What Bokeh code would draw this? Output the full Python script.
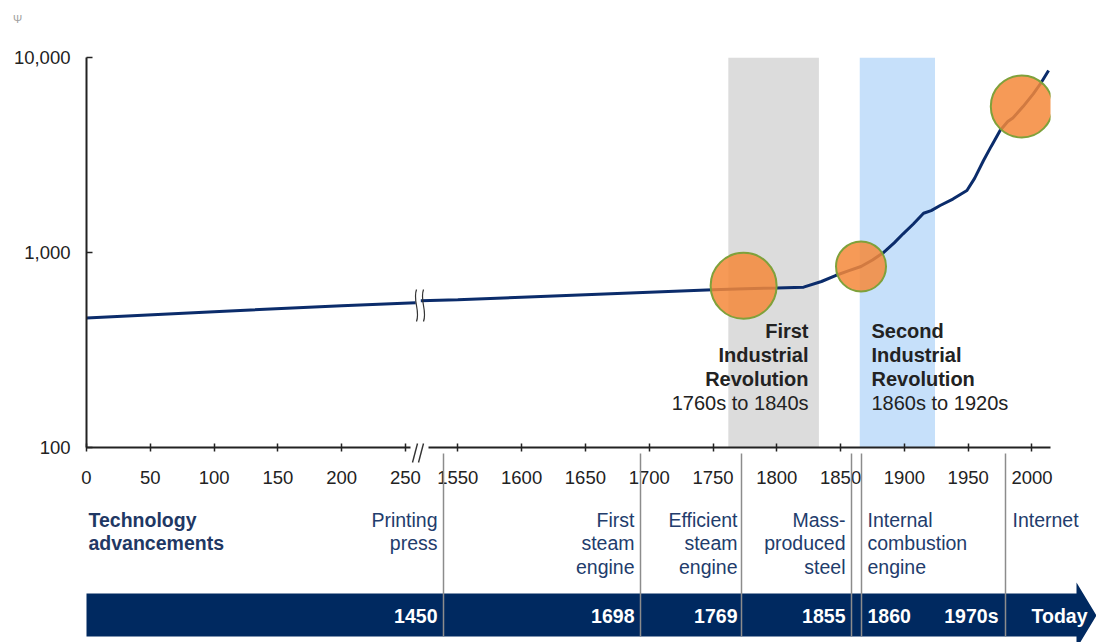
from bokeh.plotting import figure
from bokeh.models import Range1d, LinearScale, FixedTicker, NumeralTickFormatter, ColumnDataSource
from bokeh.core.properties import value
from bokeh.embed import file_html
from bokeh.resources import INLINE

# ---------------- data ----------------
early_years = [0, 100, 200, 258]
early_gdp = [462, 497, 533, 553]

late_years = [1521, 1550, 1600, 1650, 1700, 1750, 1775, 1800, 1821, 1835, 1846, 1856,
              1866, 1875, 1884, 1892, 1899, 1907, 1915, 1921, 1928, 1938, 1949, 1955,
              1962, 1968, 1975, 1981, 1985, 1988, 1993, 2001, 2007, 2013]
late_gdp = [565, 572, 590, 608, 626, 645, 652, 658, 664, 710, 762, 805,
            848, 915, 1004, 1120, 1247, 1400, 1590, 1640, 1742, 1880, 2080, 2400,
            2964, 3500, 4225, 4700, 4900, 5143, 5600, 6513, 7400, 8580]

circle_years = [1774, 1866, 1992]
circle_gdp = [675, 848, 5610]
circle_sizes = [66, 50, 62]

rev_start = [1762, 1865]
rev_end = [1833, 1924]
rev_colors = ["#DCDCDC", "#C6E0FA"]

x_ticks_early = [0, 50, 100, 150, 200, 250]
x_ticks_late = [1550, 1600, 1650, 1700, 1750, 1800, 1850, 1900, 1950, 2000]
y_ticks = [100, 1000, 10000]

tech_heading = "Technology\nadvancements"
tech_labels = ["Printing\npress", "First\nsteam\nengine", "Efficient\nsteam\nengine",
               "Mass-\nproduced\nsteel", "Internal\ncombustion\nengine", "Internet"]
band_labels = ["1450", "1698", "1769", "1855", "1860", "1970s", "Today"]

rev1_title = "First\nIndustrial\nRevolution"
rev1_period = "1760s to 1840s"
rev2_title = "Second\nIndustrial\nRevolution"
rev2_period = "1860s to 1920s"

# ---------------- broken x axis mapping ----------------
BREAK_YEAR = 1550
BREAK_DISP = 291


def disp(years):
    return [y if y < 1000 else y - BREAK_YEAR + BREAK_DISP for y in years]


FONT = "Liberation Sans"
NAVY = "#002960"
LINE = "#0B2C6B"
TXT_BLUE = "#223C6C"

W, H = 1096, 642
p = figure(width=W, height=H,
           x_range=Range1d(0, 755.5), y_range=Range1d(100, 10000),
           y_axis_type="log", output_backend="svg", toolbar_location=None,
           min_border_left=86, min_border_right=W - 1050, min_border_top=57,
           min_border_bottom=H - 447)
p.outline_line_color = None
p.xgrid.visible = False
p.ygrid.visible = False
p.background_fill_color = "white"
p.border_fill_color = "white"

# pixel ranges for annotations/layout
p.extra_x_ranges = {"px": Range1d(86, 1050)}
p.extra_y_ranges = {"px": Range1d(447, 57)}
p.extra_x_scales = {"px": LinearScale()}
p.extra_y_scales = {"px": LinearScale()}
PX = dict(x_range_name="px", y_range_name="px")

# axes
xa = p.xaxis[0]
xticks_disp = disp(x_ticks_early) + disp(x_ticks_late)
xa.ticker = FixedTicker(ticks=xticks_disp)
xa.major_label_overrides = {d: str(y) for d, y in zip(xticks_disp, x_ticks_early + x_ticks_late)}
xa.minor_tick_line_color = None
xa.major_tick_in = 4
xa.major_tick_out = 4
xa.major_tick_line_width = 1.5
xa.major_tick_line_color = "#222222"
xa.axis_line_width = 2
xa.axis_line_color = "#222222"
xa.major_label_standoff = 19
xa.major_label_text_font = FONT
xa.major_label_text_font_size = "18.5px"
xa.major_label_text_color = "#222222"

ya = p.yaxis[0]
ya.ticker = FixedTicker(ticks=y_ticks)
ya.formatter = NumeralTickFormatter(format="0,0")
ya.minor_tick_line_color = None
ya.major_tick_in = 6
ya.major_tick_out = 0
ya.major_tick_line_width = 1.5
ya.major_tick_line_color = "#222222"
ya.axis_line_width = 2
ya.axis_line_color = "#222222"
ya.major_label_standoff = 16
ya.major_label_text_font = FONT
ya.major_label_text_font_size = "18.5px"
ya.major_label_text_color = "#222222"

# revolution shading
p.quad(left=disp(rev_start), right=disp(rev_end), bottom=100, top=10000,
       fill_color=rev_colors, line_color=None, level="underlay")

# series
p.line(disp(early_years), early_gdp, line_color=LINE, line_width=3)
p.line(disp(late_years), late_gdp, line_color=LINE, line_width=3)

# highlight circles
p.scatter(x=disp(circle_years), y=circle_gdp, size=circle_sizes, marker="circle",
          fill_color="#F5883A", fill_alpha=0.85, line_color="#7FA13B", line_width=2)

# break marks on the line
p.bezier(x0=[416, 423], y0=[289, 289], x1=[416, 423], y1=[321, 321],
         cx0=[412, 419], cy0=[300, 300], cx1=[420, 427], cy1=[310, 310],
         line_color="#333333", line_width=1.2, level="overlay", **PX)

# axis break on x axis
p.quad(left=[410], right=[428], bottom=[449.5], top=[444.5], fill_color="white",
       line_color=None, level="overlay", **PX)
p.segment(x0=[412, 418], y0=[462, 462], x1=[417, 423], y1=[443, 443],
          line_color="#333333", line_width=1.4, level="overlay", **PX)


def multiline(texts, xs, y0, step, align, size, color, style="normal", level="overlay"):
    X, Y, T, A = [], [], [], []
    for t, x, a in zip(texts, xs, align):
        for i, line in enumerate(t.split("\n")):
            X.append(x)
            Y.append(y0 + i * step)
            T.append(line)
            A.append(a)
    src = ColumnDataSource(dict(x=X, y=Y, text=T, align=A))
    p.text(x="x", y="y", text="text", text_align="align", source=src,
           text_baseline="middle", text_font=value(FONT), text_font_size=size,
           text_color=color, text_font_style=style, level=level, **PX)


# revolution texts
multiline([rev1_title], [808], 330, 24, ["right"], "20px", "#222222", "bold")
multiline([rev1_period], [808], 402, 24, ["right"], "20px", "#222222")
multiline([rev2_title], [871], 330, 24, ["left"], "20px", "#222222", "bold")
multiline([rev2_period], [871], 402, 24, ["left"], "20px", "#222222")

# timeline band (arrow)
p.patch(x=[86, 1076, 1076, 1096, 1076, 1076, 86], y=[593, 593, 582, 615, 648, 636, 636],
        fill_color=NAVY, line_color=None, level="overlay", **PX)

# separators
sep_x = [443, 640, 741, 851, 861, 1005]
p.segment(x0=sep_x, y0=[453] * len(sep_x), x1=sep_x, y1=[636] * len(sep_x),
          line_color="#8C8C8C", line_width=1.5, level="overlay", **PX)

# timeline texts
multiline([tech_heading], [88], 519, 23.5, ["left"], "19.5px", "#1F3864", "bold")
multiline(tech_labels, [437, 634, 737, 845, 867, 1012], 519, 23.5,
          ["right", "right", "right", "right", "left", "left"], "19.5px", TXT_BLUE)
multiline(band_labels, [437, 634, 737, 845, 867, 998, 1087], 615, 0,
          ["right", "right", "right", "right", "left", "right", "right"], "19.5px", "white", "bold")

# small glyph top-left
multiline(["\u03a8"], [17], 18, 0, ["center"], "11px", "#A0A0A0")

open("out.html", "w").write(file_html(p, INLINE))
